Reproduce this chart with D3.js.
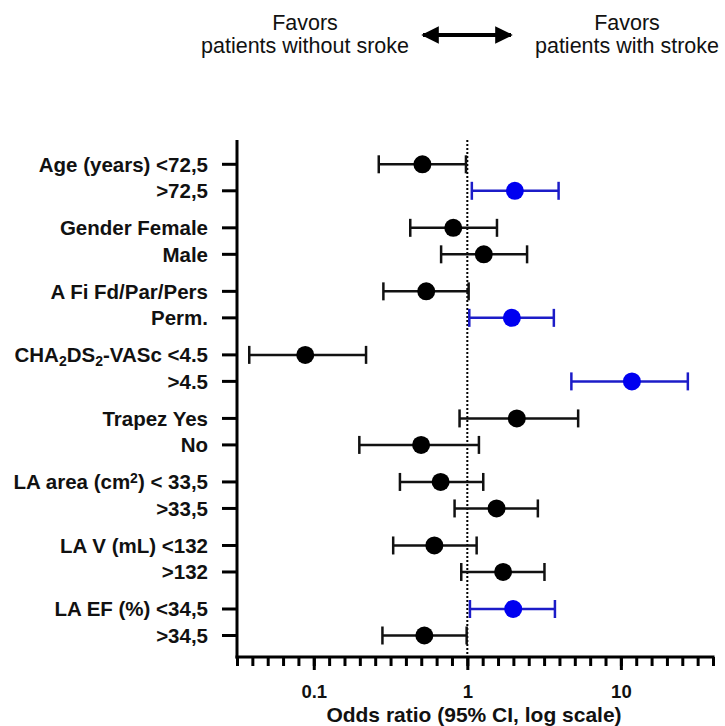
<!DOCTYPE html>
<html>
<head>
<meta charset="utf-8">
<script src="https://cdn.jsdelivr.net/npm/d3@7"></script>
<style>
  body { margin: 0; background: #fff; }
  svg { display: block; font-family: "Liberation Sans", Arial, sans-serif; }
</style>
</head>
<body>
<div class="container"></div>
<script>
const w = 725;
const h = 726;

// rows, two per group; pieces: [text, 'sub' | 'sup' | undefined]
const labels = [
    [['Age (years) <72,5']], [['>72,5']],
    [['Gender Female']], [['Male']],
    [['A Fi Fd/Par/Pers']], [['Perm.']],
    [['CHA'], ['2', 'sub'], ['DS'], ['2', 'sub'], ['-VASc <4.5']], [['>4.5']],
    [['Trapez Yes']], [['No']],
    [['LA area (cm'], ['2', 'sup'], [') < 33,5']], [['>33,5']],
    [['LA V (mL) <132']], [['>132']],
    [['LA EF (%) <34,5']], [['>34,5']]
];
const oddsRatio = [0.51, 2.04, 0.81, 1.28, 0.54, 1.95, 0.088, 11.8, 2.10, 0.50, 0.67, 1.55, 0.61, 1.71, 1.99, 0.525];
const ciLow     = [0.265, 1.07, 0.425, 0.675, 0.284, 1.03, 0.038, 4.76, 0.89, 0.198, 0.364, 0.826, 0.329, 0.913, 1.04, 0.28];
const ciHigh    = [0.98, 3.93, 1.56, 2.45, 1.02, 3.66, 0.219, 27.3, 5.27, 1.19, 1.27, 2.88, 1.15, 3.18, 3.72, 0.99];
const significant = [false, true, false, false, false, true, false, true, false, false, false, false, false, false, true, false];
const tickLabels = [0.1, 1, 10];

const margin = { top: 140, right: 12, bottom: 69, left: 237 };

const svg = d3.select('.container')
    .append('svg')
    .attr('width', w)
    .attr('height', h);

const x = d3.scaleLog()
    .domain([Math.pow(10, -1.5), Math.pow(10, 1.6)])
    .range([margin.left, w - margin.right]);

const groups = d3.range(labels.length / 2);
const yGroup = d3.scalePoint().domain(groups).range([164.3, 609]);
const yRow = d3.scalePoint().domain([0, 1]).range([0, 26.5]);
const y = i => yGroup(Math.floor(i / 2)) + yRow(i % 2);

const rows = labels.map((l, i) => ({
    label: l, or: oddsRatio[i], lo: ciLow[i], hi: ciHigh[i], sig: significant[i], y: y(i)
}));

const axisBottom = h - margin.bottom;

// header
const header = svg.append('g').style('font-size', '21.5px').attr('fill', '#111');
[[305, 'Favors', 'patients without sroke'], [627, 'Favors', 'patients with stroke']].forEach(([cx, a, b]) => {
    const t = header.append('text').attr('text-anchor', 'middle');
    t.append('tspan').attr('x', cx).attr('y', 30).text(a);
    t.append('tspan').attr('x', cx).attr('y', 53).text(b);
});
const defs = svg.append('defs');
defs.append('marker')
    .attr('id', 'head')
    .attr('viewBox', '0 0 10 10')
    .attr('refX', 9).attr('refY', 5)
    .attr('markerWidth', 5.4).attr('markerHeight', 4.4)
    .attr('markerUnits', 'strokeWidth')
    .attr('orient', 'auto-start-reverse')
    .append('path').attr('d', 'M0,0 L10,5 L0,10 Z').attr('fill', '#000');
svg.append('line')
    .attr('x1', 423).attr('x2', 511)
    .attr('y1', 35).attr('y2', 35)
    .attr('stroke', '#000').attr('stroke-width', 4)
    .attr('marker-start', 'url(#head)')
    .attr('marker-end', 'url(#head)');

// reference line at OR = 1
svg.append('line')
    .attr('x1', x(1)).attr('x2', x(1))
    .attr('y1', margin.top).attr('y2', axisBottom)
    .attr('stroke', '#000').attr('stroke-width', 2)
    .attr('stroke-dasharray', '2,2');

// y axis
svg.append('line')
    .attr('x1', margin.left).attr('x2', margin.left)
    .attr('y1', margin.top).attr('y2', axisBottom + 1.5)
    .attr('stroke', '#000').attr('stroke-width', 3);
svg.append('g')
    .selectAll('line')
    .data(rows)
    .join('line')
    .attr('x1', margin.left - 15).attr('x2', margin.left)
    .attr('y1', d => d.y).attr('y2', d => d.y)
    .attr('stroke', '#000').attr('stroke-width', 3);

const labelG = svg.append('g')
    .style('font-size', '20.5px')
    .style('font-weight', 'bold')
    .attr('fill', '#111');
rows.forEach(d => {
    const t = labelG.append('text')
        .attr('x', margin.left - 29)
        .attr('y', d.y)
        .attr('dy', '0.36em')
        .attr('text-anchor', 'end');
    d.label.forEach(([s, kind]) => {
        const sp = t.append('tspan').text(s);
        if (kind === 'sub') sp.attr('baseline-shift', '-25%').style('font-size', '14px');
        if (kind === 'sup') sp.attr('baseline-shift', '40%').style('font-size', '14px');
    });
});

// x axis
const minorTicks = d3.range(-15, 17).map(k => Math.pow(10, k / 10));
svg.append('g')
    .attr('transform', `translate(0, ${axisBottom})`)
    .call(d3.axisBottom(x).tickValues(minorTicks).tickSize(9).tickFormat(''))
    .call(g => g.select('.domain').attr('stroke-width', 3).attr('d', `M${margin.left - 1.5},0H${w - margin.right + 1.5}`))
    .call(g => g.selectAll('.tick line').attr('stroke-width', 3));
svg.append('g')
    .attr('transform', `translate(0, ${axisBottom})`)
    .call(d3.axisBottom(x).tickValues(tickLabels).tickSize(13).tickPadding(15).tickFormat(d3.format('')))
    .call(g => g.select('.domain').remove())
    .call(g => g.selectAll('.tick line').attr('stroke-width', 3))
    .call(g => g.selectAll('.tick text')
        .style('font-size', '18.5px')
        .style('font-weight', 'bold')
        .style('font-family', '"Liberation Sans", Arial, sans-serif')
        .attr('fill', '#111'));

svg.append('text')
    .attr('x', 474)
    .attr('y', 722)
    .attr('text-anchor', 'middle')
    .style('font-size', '21px')
    .style('font-weight', 'bold')
    .attr('fill', '#111')
    .text('Odds ratio (95% CI, log scale)');

// error bars and points
const color = d => d.sig ? '#0000f0' : '#000';
const lineColor = d => d.sig ? '#1c1cc8' : '#111';
const bars = svg.append('g').selectAll('g').data(rows).join('g');
bars.append('line')
    .attr('x1', d => x(d.lo)).attr('x2', d => x(d.hi))
    .attr('y1', d => d.y).attr('y2', d => d.y)
    .attr('stroke', lineColor).attr('stroke-width', 2.5);
['lo', 'hi'].forEach(k => {
    bars.append('line')
        .attr('x1', d => x(d[k])).attr('x2', d => x(d[k]))
        .attr('y1', d => d.y - 9).attr('y2', d => d.y + 9)
        .attr('stroke', lineColor).attr('stroke-width', 2.5);
});
bars.append('circle')
    .attr('cx', d => x(d.or))
    .attr('cy', d => d.y)
    .attr('r', 9)
    .attr('fill', color);
</script>
</body>
</html>
